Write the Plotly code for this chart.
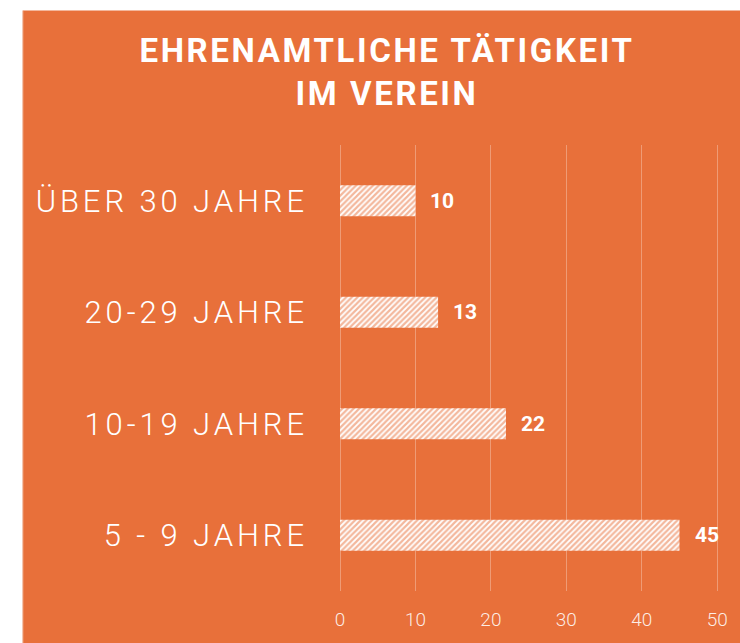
import plotly.graph_objects as go

categories = ["5 - 9 JAHRE", "10-19 JAHRE", "20-29 JAHRE", "ÜBER 30 JAHRE"]
values = [45, 22, 13, 10]
value_labels = ["45", "22", "13", "10"]
tick_vals = [0, 10, 20, 30, 40, 50]
tick_text = ["0", "10", "20", "30", "40", "50"]
title_lines = ["EHRENAMTLICHE TÄTIGKEIT", "IM VEREIN"]

ORANGE = "#E8703A"
W, H = 740, 643
X_MAX = 50.5
L, T, B = 340, 145, 50
R = W - L - round(384 * X_MAX / 50)
pw, ph = W - L - R, H - T - B


def spaced(s, px):
    return f'<span style="letter-spacing:{px}px">{s}</span>'


fig = go.Figure()
fig.add_trace(go.Bar(
    y=categories, x=values, orientation="h",
    width=0.28,
    marker=dict(color="white", line=dict(width=0),
                pattern=dict(shape="/", fgcolor=ORANGE, bgcolor="white",
                             size=4, solidity=0.55, fillmode="overlay")),
    hoverinfo="skip",
))

for c, v, t in zip(categories, values, value_labels):
    fig.add_annotation(x=v, y=c, xref="x", yref="y", text=t, showarrow=False,
                       xanchor="left", xshift=13,
                       font=dict(family="Roboto", size=21, color="white", weight=700))

# orange background panel
fig.add_shape(type="rect", xref="paper", yref="paper", layer="below",
              x0=(17 - L) / pw, x1=2,
              y0=-1, y1=(H - B - 10) / ph,
              fillcolor=ORANGE, line=dict(width=0))
fig.add_shape(type="line", xref="paper", yref="paper", layer="below",
              x0=(17 - L) / pw, x1=(17 - L) / pw,
              y0=-1, y1=(H - B - 10) / ph,
              line=dict(color="#F0B89E", width=1))

fig.update_layout(
    width=W, height=H,
    margin=dict(l=L, r=R, t=T, b=B),
    paper_bgcolor="white", plot_bgcolor=ORANGE,
    showlegend=False, bargap=0.7,
    title=dict(text="<br>".join(spaced(s, 2.6) for s in title_lines),
               x=387 / W, xanchor="center",
               y=1 - 62 / H, yanchor="middle",
               font=dict(family="Roboto", size=33, color="white", weight=700)),
    xaxis=dict(range=[0, X_MAX], tickvals=tick_vals, ticktext=tick_text,
               showgrid=True, gridcolor="rgba(255,255,255,0.3)", gridwidth=1,
               zeroline=True, zerolinecolor="rgba(255,255,255,0.3)", zerolinewidth=1,
               showline=False, ticks="", ticklabelstandoff=15,
               tickfont=dict(family="Roboto", size=19, color="rgba(255,255,255,0.88)", weight=300),
               fixedrange=True),
    yaxis=dict(tickmode="array", tickvals=categories,
               ticktext=[spaced(c, 3.9) for c in categories],
               showgrid=False, zeroline=False, showline=False, ticks="",
               ticklabelstandoff=31,
               tickfont=dict(family="Roboto", size=31, color="white", weight=300),
               fixedrange=True),
)

fig.write_html("out.html", config={"displayModeBar": False},
               post_script="document.body.style.margin='0px';")
